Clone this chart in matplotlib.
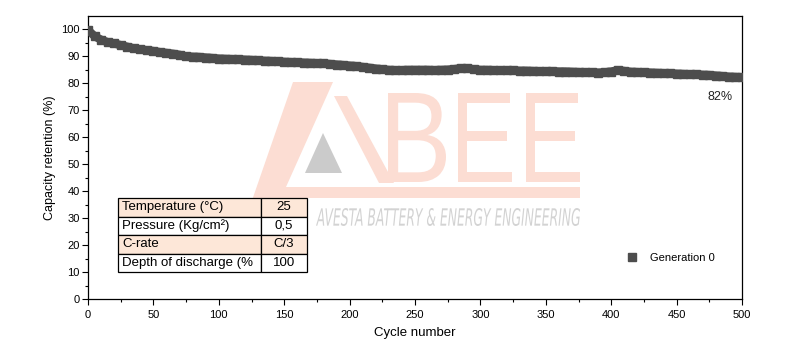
import numpy as np
import matplotlib.pyplot as plt
from matplotlib.textpath import TextPath
from matplotlib.patches import PathPatch, Polygon
from matplotlib.font_manager import FontProperties
from matplotlib.transforms import Affine2D

plt.rcParams['font.family'] = ['Liberation Sans', 'DejaVu Sans']

cycles = np.arange(0, 501, 5)
retention = [
    99.8, 97.5, 96.2, 95.3, 94.8, 94.2, 93.6, 93.0, 92.6, 92.3,
    92.0, 91.6, 91.3, 91.0, 90.6, 90.0, 89.9, 89.8, 89.6, 89.4,
    89.2, 89.1, 89.0, 88.9, 88.8, 88.7, 88.5, 88.4, 88.3, 88.2,
    88.0, 87.9, 87.8, 87.7, 87.6, 87.5, 87.4, 87.2, 87.0, 86.8,
    86.6, 86.4, 86.1, 85.8, 85.5, 85.2, 85.0, 84.9, 84.9, 85.0,
    85.0, 85.0, 85.0, 84.9, 85.0, 85.1, 85.3, 85.6, 85.6, 85.2,
    85.0, 85.0, 84.9, 84.9, 84.8, 84.8, 84.7, 84.7, 84.6, 84.5,
    84.5, 84.5, 84.4, 84.4, 84.3, 84.2, 84.1, 84.1, 84.0, 84.1,
    84.4, 84.9, 84.6, 84.3, 84.2, 84.1, 84.0, 83.9, 83.8, 83.7,
    83.6, 83.5, 83.4, 83.3, 83.2, 83.1, 82.9, 82.7, 82.5, 82.4,
    82.3,
]

table_rows = ["Temperature (°C)", "Pressure (Kg/cm²)", "C-rate", "Depth of discharge (%"]
table_vals = ["25", "0,5", "C/3", "100"]

W, H = 786, 355
fig = plt.figure(figsize=(W / 100, H / 100), dpi=100)
ax = fig.add_axes([88 / W, 1 - 299 / H, (742 - 88) / W, (299 - 16) / H])
ax.set_zorder(1)
ax.patch.set_alpha(0)


def px(x, y):
    return (x / W, 1 - y / H)


# watermark logo (drawn on the figure, under the axes)
salmon = '#fcddd3'
bolt = [px(293, 82), px(333, 82), px(286, 187), px(580, 187), px(580, 198),
        px(305, 198), px(262, 235), px(240, 235)]
fig.patches.append(Polygon(bolt, closed=True, fc=salmon, ec='none',
                           transform=fig.transFigure, zorder=-1))
stroke = [px(334, 96), px(347, 96), px(394, 183), px(379, 183)]
fig.patches.append(Polygon(stroke, closed=True, fc=salmon, ec='none',
                           transform=fig.transFigure, zorder=-1))
tri = [px(305, 173), px(323, 133), px(342, 173)]
fig.patches.append(Polygon(tri, closed=True, fc='#cbcbcb', ec='none',
                           transform=fig.transFigure, zorder=-1))


def text_box(s, x0, y0, x1, y1, color, family='Liberation Sans', style='normal'):
    tp = TextPath((0, 0), s, size=10, prop=FontProperties(family=family, style=style))
    b = tp.get_extents()
    sx = (x1 - x0) / W / b.width
    sy = (y1 - y0) / H / b.height
    tr = Affine2D().translate(-b.x0, -b.y0).scale(sx, sy).translate(x0 / W, 1 - y1 / H)
    fig.patches.append(PathPatch(tp, fc=color, ec='none', zorder=-1,
                                 transform=tr + fig.transFigure))


text_box("B", 388, 93, 446, 182, salmon)
text_box("E", 458, 93, 512, 182, salmon)
text_box("E", 526, 93, 580, 182, salmon)
text_box("AVESTA BATTERY & ENERGY ENGINEERING", 316, 208, 580, 226, '#d3d3d3',
         family='DejaVu Sans', style='italic')

ax.plot(cycles, retention, '-', lw=6, color='#4d4d4d', solid_capstyle='butt', zorder=3)
ax.plot(cycles, retention, 's', ms=5.5, color='#4d4d4d', mec='#4d4d4d',
        label='Generation 0', zorder=3)

ax.set_xlim(0, 500)
ax.set_ylim(0, 105)
ax.set_xticks(np.arange(0, 501, 50))
ax.set_xticks(np.arange(25, 500, 50), minor=True)
ax.set_yticks(np.arange(0, 101, 10))
ax.set_yticks(np.arange(5, 101, 10), minor=True)
ax.tick_params(which='major', length=4, width=0.8, labelsize=8)
ax.tick_params(axis='x', which='major', pad=4)
ax.tick_params(axis='y', which='major', pad=2)
ax.tick_params(which='minor', length=2.5, width=0.8)
for s in ax.spines.values():
    s.set_linewidth(0.9)

ax.set_xlabel("Cycle number", fontsize=9.5, labelpad=5)
ax.set_ylabel("Capacity retention (%)", fontsize=9, labelpad=4)

ax.text(483, 75, "82%", fontsize=9, ha='center', va='center', color='#222222')

ax.legend(loc='center left', bbox_to_anchor=((622 - 88) / 654, 1 - (258 - 16) / 283),
          frameon=False, fontsize=8, handlelength=0.8, handletextpad=1.2,
          borderpad=0, markerscale=1.1)

tbl = ax.table(cellText=[[r, v] for r, v in zip(table_rows, table_vals)],
               colWidths=[143 / 189, 46 / 189],
               bbox=[(118 - 88) / 654, 1 - (272 - 16) / 283, (307 - 118) / 654, (272 - 198) / 283])
tbl.auto_set_font_size(False)
for (r, c), cell in tbl.get_celld().items():
    cell.set_fontsize(9.5)
    cell.set_linewidth(0.9)
    cell.set_facecolor('#fde7d8' if r in (0, 2) else 'white')
    cell.get_text().set_ha('left' if c == 0 else 'center')
    if c == 0:
        cell.PAD = 0.03
    cell.set_zorder(2)

fig.savefig("out.png", dpi=100)
